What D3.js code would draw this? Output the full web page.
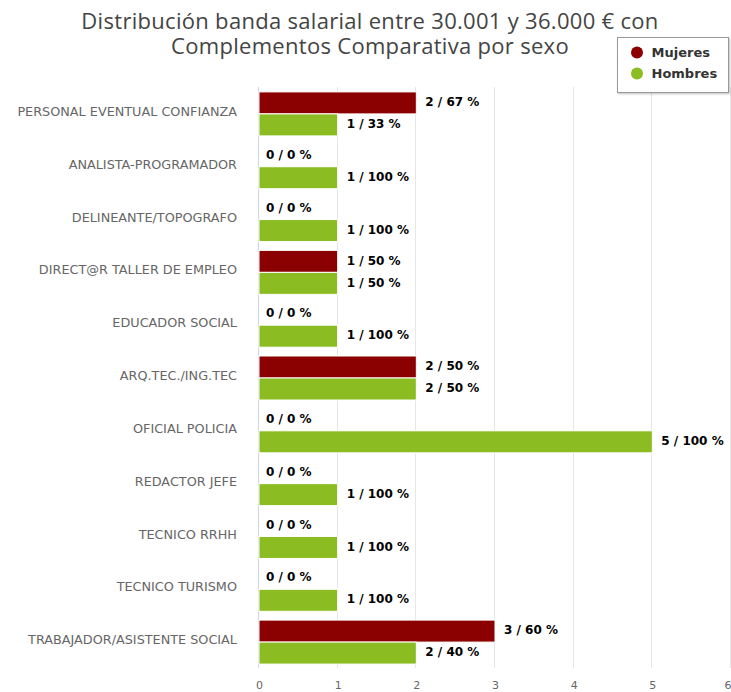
<!DOCTYPE html>
<html>
<head>
<meta charset="utf-8">
<script src="https://cdn.jsdelivr.net/npm/d3@7"></script>
<style>
  html, body { margin: 0; padding: 0; background: #fff; }
  svg { display: block; font-family: "DejaVu Sans", sans-serif; }
</style>
</head>
<body>
<div id="chart"></div>
<script>
// Puestos con retribución entre 30.001 y 36.000 € (con complementos)
const categories = [
  "PERSONAL EVENTUAL CONFIANZA",
  "ANALISTA-PROGRAMADOR",
  "DELINEANTE/TOPOGRAFO",
  "DIRECT@R TALLER DE EMPLEO",
  "EDUCADOR SOCIAL",
  "ARQ.TEC./ING.TEC",
  "OFICIAL POLICIA",
  "REDACTOR JEFE",
  "TECNICO RRHH",
  "TECNICO TURISMO",
  "TRABAJADOR/ASISTENTE SOCIAL"
];
const mujeres = [2, 0, 0, 1, 0, 2, 0, 0, 0, 0, 3];
const hombres = [1, 1, 1, 1, 1, 2, 5, 1, 1, 1, 2];
const xTicks = [0, 1, 2, 3, 4, 5, 6];

const seriesNames = ["Mujeres", "Hombres"];
const seriesColors = ["#8b0000", "#8bbc21"];
const series = [mujeres, hombres];

const W = 731, H = 692;
const margin = { top: 87, right: 0, bottom: 22, left: 259 };

const svg = d3.select("#chart").append("svg")
  .attr("width", W).attr("height", H);

// Title
const title = svg.append("text")
  .attr("text-anchor", "middle")
  .attr("fill", "#444")
  .style("font-family", "'Open Sans', sans-serif")
  .style("font-size", "22px")
  .style("letter-spacing", "0.3px");
title.append("tspan").attr("x", 370).attr("y", 29)
  .text("Distribución banda salarial entre 30.001 y 36.000 € con");
title.append("tspan").attr("x", 370).attr("y", 54)
  .text("Complementos Comparativa por sexo");

const x = d3.scaleLinear().domain([0, 6]).range([margin.left, W - margin.right]);
const y = d3.scaleBand().domain(categories)
  .range([margin.top, H - margin.bottom - 2]);

const barH = 22;

// Vertical grid
svg.append("g").selectAll("line").data(xTicks.slice(1)).join("line")
  .attr("x1", d => Math.round(x(d)) - 0.5).attr("x2", d => Math.round(x(d)) - 0.5)
  .attr("y1", margin.top).attr("y2", y.range()[1])
  .attr("stroke", "#e6e6e6").attr("stroke-width", 1);

// Bottom value axis labels
const xAxis = d3.axisBottom(x).tickValues(xTicks).tickFormat(d3.format("d"))
  .tickSize(0).tickPadding(0);
const gx = svg.append("g")
  .attr("transform", `translate(0,${y.range()[1] + 17})`)
  .call(xAxis);
gx.attr("font-family", null).attr("font-size", null);
gx.select(".domain").remove();
gx.selectAll("text")
  .attr("fill", "#666").style("font-size", "11px")
  .attr("dy", "0.35em")
  .attr("text-anchor", d => d === 6 ? "end" : "middle");

// Category axis on the left
const yAxis = d3.axisLeft(y).tickSize(0).tickPadding(22);
const gy = svg.append("g")
  .attr("transform", `translate(${margin.left},0)`)
  .call(yAxis);
gy.attr("font-family", null).attr("font-size", null);
gy.select(".domain")
  .attr("stroke", "#ccd6eb").attr("d", `M-0.5,${margin.top}V${y.range()[1]}`);
gy.selectAll("text")
  .attr("fill", "#666").style("font-size", "12.8px")
  .attr("dy", "0.2em");

// Bars and labels
series.forEach((vals, si) => {
  const g = svg.append("g");
  const yOff = si === 0 ? -barH + 0.5 : 0.5;
  const rows = categories.map((c, i) => ({
    c, v: vals[i], total: mujeres[i] + hombres[i]
  }));
  g.selectAll("rect").data(rows).join("rect")
    .attr("x", x(0))
    .attr("y", d => y(d.c) + y.bandwidth() / 2 + yOff)
    .attr("width", d => Math.max(0, x(d.v) - x(0)))
    .attr("height", d => d.v > 0 ? barH : 0)
    .attr("fill", seriesColors[si])
    .attr("stroke", "#fff").attr("stroke-width", 1);

  g.selectAll("text").data(rows).join("text")
    .attr("x", d => x(d.v) + (d.v > 0 ? 9 : 7))
    .attr("y", d => y(d.c) + y.bandwidth() / 2 + yOff + barH / 2 - 1)
    .attr("dy", "0.35em")
    .attr("fill", "#000")
    .attr("stroke", "#fff").attr("stroke-width", 2)
    .attr("paint-order", "stroke")
    .style("font-size", "12px").style("font-weight", "bold")
    .text(d => `${d.v} / ${d.total ? Math.round(d.v / d.total * 100) : 0} %`);
});

// Legend
const lg = svg.append("g").attr("transform", "translate(617.5,37.5)");
lg.append("rect").attr("width", 111).attr("height", 55)
  .attr("fill", "#fff").attr("stroke", "#999").attr("stroke-width", 1)
  .style("filter", "drop-shadow(1px 1px 1px rgba(0,0,0,0.25))");
seriesNames.forEach((n, i) => {
  const row = lg.append("g").attr("transform", `translate(0,${15 + i * 21})`);
  row.append("circle").attr("cx", 19.5).attr("cy", 0).attr("r", 6)
    .attr("fill", seriesColors[i]);
  row.append("text").attr("x", 34).attr("y", 0).attr("dy", "0.35em")
    .attr("fill", "#333").style("font-size", "13px").style("font-weight", "bold")
    .text(n);
});
</script>
</body>
</html>
